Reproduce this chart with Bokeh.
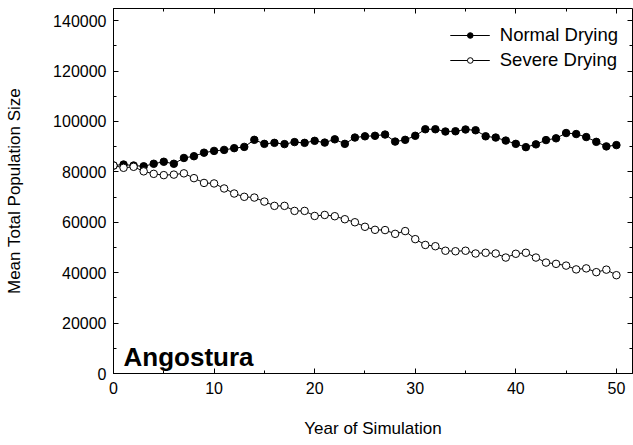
from bokeh.plotting import figure
from bokeh.models import (LinearAxis, SingleIntervalTicker, Legend, LegendItem,
                          Label, BasicTickFormatter, CustomJSTickFormatter)
from bokeh.embed import file_html
from bokeh.resources import INLINE

years = list(range(0, 51))
normal_drying = [82500, 82900, 82500, 82200, 83200, 84000, 83200, 85500, 86200, 87600,
                 88300, 88700, 89400, 89900, 92700, 91100, 91500, 91000, 91800, 91500,
                 92300, 91600, 92900, 91100, 93600, 94100, 94300, 94800, 92000, 92700,
                 94300, 96900, 96900, 96000, 96100, 96800, 96500, 94100, 93600, 92400,
                 91100, 89800, 90900, 92600, 93300, 95400, 95000, 93800, 91900, 90100,
                 90600]
severe_drying = [82500, 81600, 82000, 80200, 79200, 78700, 78900, 79400, 77500, 75600,
                 75400, 73400, 71400, 70100, 69800, 68200, 66500, 66500, 64500, 64500,
                 62500, 62900, 62400, 61200, 60000, 58200, 57000, 56900, 55400, 56500,
                 53300, 51000, 50500, 48700, 48500, 48700, 47600, 47900, 47600, 46000,
                 47500, 47900, 46000, 44000, 43500, 42800, 41300, 41700, 40200, 41200,
                 39000]
series_names = ["Normal Drying", "Severe Drying"]
site_name = "Angostura"
x_label = "Year of Simulation"
y_label = "Mean Total Population Size"

FONT = "Liberation Sans"

p = figure(width=633, height=445, x_range=(0, 51.6), y_range=(0, 144800),
           output_backend="svg", toolbar_location=None,
           min_border_left=113, min_border_right=1, min_border_top=8,
           min_border_bottom=72, x_axis_type=None, y_axis_type=None)
p.outline_line_color = None
p.background_fill_color = "white"
p.border_fill_color = "white"


def style_axis(ax, labels=True):
    ax.axis_line_color = "black"
    ax.axis_line_width = 1
    ax.major_tick_line_color = "black"
    ax.minor_tick_line_color = "black"
    ax.major_tick_in = 5
    ax.major_tick_out = 0
    ax.minor_tick_in = 3
    ax.minor_tick_out = 0
    if labels:
        ax.major_label_text_font = FONT
        ax.major_label_text_font_size = "16px"
        ax.major_label_text_color = "black"
        ax.axis_label_text_font = FONT
        ax.axis_label_text_font_size = "17px"
        ax.axis_label_text_font_style = "normal"
        ax.axis_label_text_color = "black"
    else:
        ax.formatter = CustomJSTickFormatter(code="return ''")
        ax.major_label_text_font_size = "1px"
        ax.major_label_standoff = 0
        ax.axis_label = None


xt = SingleIntervalTicker(interval=10, num_minor_ticks=2)
yt = SingleIntervalTicker(interval=20000, num_minor_ticks=2)

xb = LinearAxis(ticker=xt, axis_label=x_label)
style_axis(xb)
xb.major_label_standoff = 8
xb.axis_label_standoff = 22
p.add_layout(xb, "below")

yl = LinearAxis(ticker=yt, axis_label=y_label,
                formatter=BasicTickFormatter(use_scientific=False))
style_axis(yl)
yl.major_label_standoff = 7
yl.axis_label_standoff = 26
p.add_layout(yl, "left")

xt2 = LinearAxis(ticker=SingleIntervalTicker(interval=10, num_minor_ticks=2))
style_axis(xt2, labels=False)
p.add_layout(xt2, "above")

yr = LinearAxis(ticker=SingleIntervalTicker(interval=20000, num_minor_ticks=2))
style_axis(yr, labels=False)
p.add_layout(yr, "right")

# data
l1 = p.line(years, normal_drying, line_color="black", line_width=1)
m1 = p.scatter(years, normal_drying, size=7.5, marker="circle",
               fill_color="black", line_color="black", line_width=1)
l2 = p.line(years, severe_drying, line_color="black", line_width=1)
m2 = p.scatter(years, severe_drying, size=7.5, marker="circle",
               fill_color="white", line_color="black", line_width=1)

# legend-only small markers (no visible data)
nan = float("nan")
lm1 = p.scatter([nan], [nan], size=6, marker="circle", fill_color="black", line_color="black")
lm2 = p.scatter([nan], [nan], size=6, marker="circle", fill_color="white", line_color="black")

legend = Legend(items=[LegendItem(label=series_names[0], renderers=[l1, lm1]),
                       LegendItem(label=series_names[1], renderers=[l2, lm2])],
                location="top_right")
legend.border_line_color = None
legend.background_fill_alpha = 0
legend.padding = 0
legend.margin = 14
legend.spacing = 0
legend.glyph_width = 40
legend.glyph_height = 14
legend.label_height = 25
legend.label_standoff = 10
legend.label_text_font = FONT
legend.label_text_font_size = "18.5px"
legend.label_text_color = "black"
p.add_layout(legend)

p.add_layout(Label(x=1.0, y=6700, text=site_name, text_font=FONT,
                   text_font_size="26px", text_font_style="bold",
                   text_color="black", text_baseline="alphabetic"))

open("out.html", "w").write(file_html(p, INLINE))
